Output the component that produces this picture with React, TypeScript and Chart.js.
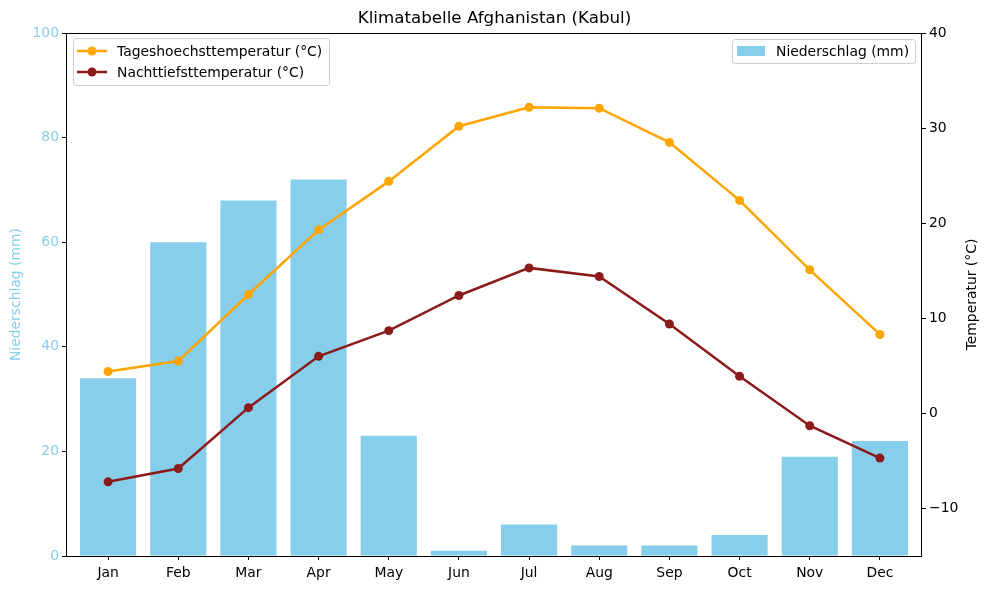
import React, { useEffect, useRef } from "react";
import { Chart, registerables } from "chart.js";

Chart.register(...registerables);

const months = ["Jan", "Feb", "Mar", "Apr", "May", "Jun", "Jul", "Aug", "Sep", "Oct", "Nov", "Dec"];
const precipitation = [34, 60, 68, 72, 23, 1, 6, 2, 2, 4, 19, 22];
const maxTemp = [4.4, 5.5, 12.5, 19.3, 24.4, 30.2, 32.2, 32.1, 28.5, 22.4, 15.1, 8.3];
const minTemp = [-7.2, -5.8, 0.6, 6.0, 8.7, 12.4, 15.3, 14.4, 9.4, 3.9, -1.3, -4.7];
const precipTicks = [0, 20, 40, 60, 80, 100];
const tempTicks = [-10, 0, 10, 20, 30, 40];

const SKY = "#87CEEB";
const ORANGE = "#FFA500";
const DARKRED = "#8B1A1A";
const FONT = "'DejaVu Sans', sans-serif";
const FS = 13.9;

const overlayPlugin = {
  id: "overlay",
  afterDraw(chart: any) {
    const ctx = chart.ctx;
    const a = chart.chartArea;
    ctx.save();
    // frame
    ctx.strokeStyle = "#000";
    ctx.lineWidth = 1;
    ctx.strokeRect(Math.round(a.left) + 0.5, Math.round(a.top) + 0.5, Math.round(a.right - a.left) - 1, Math.round(a.bottom - a.top));

    // axis titles
    ctx.font = `${FS}px ${FONT}`;
    ctx.textAlign = "center";
    ctx.textBaseline = "middle";
    const cy = (a.top + a.bottom) / 2;
    ctx.save();
    ctx.translate(16, cy);
    ctx.rotate(-Math.PI / 2);
    ctx.fillStyle = SKY;
    ctx.fillText("Niederschlag (mm)", 0, 0);
    ctx.restore();
    ctx.save();
    ctx.translate(972, cy);
    ctx.rotate(-Math.PI / 2);
    ctx.fillStyle = "#000";
    ctx.fillText("Temperatur (°C)", 0, 0);
    ctx.restore();

    const box = (x: number, y: number, w: number, h: number) => {
      ctx.beginPath();
      ctx.roundRect(x + 0.5, y + 0.5, w, h, 3);
      ctx.fillStyle = "rgba(255,255,255,0.8)";
      ctx.fill();
      ctx.strokeStyle = "#cccccc";
      ctx.lineWidth = 1;
      ctx.stroke();
    };

    // left legend
    box(73, 38, 256, 47);
    const rows = [
      { label: "Tageshoechsttemperatur (°C)", color: ORANGE, y: 51 },
      { label: "Nachttiefsttemperatur (°C)", color: DARKRED, y: 72 },
    ];
    ctx.textAlign = "left";
    for (const r of rows) {
      ctx.strokeStyle = r.color;
      ctx.lineWidth = 2.5;
      ctx.beginPath();
      ctx.moveTo(77, r.y);
      ctx.lineTo(107, r.y);
      ctx.stroke();
      ctx.fillStyle = r.color;
      ctx.beginPath();
      ctx.arc(92, r.y, 4.5, 0, Math.PI * 2);
      ctx.fill();
      ctx.fillStyle = "#000";
      ctx.fillText(r.label, 117, r.y + 1);
    }

    // right legend
    box(732, 39, 183, 24);
    ctx.fillStyle = SKY;
    ctx.fillRect(737, 46, 28, 10);
    ctx.fillStyle = "#000";
    ctx.fillText("Niederschlag (mm)", 776, 52);
    ctx.restore();
  },
};

export default function App() {
  const ref = useRef<HTMLCanvasElement | null>(null);
  useEffect(() => {
    document.body.style.margin = "0";
    const canvas = ref.current;
    if (!canvas) return;
    const lineDs = (label: string, values: number[], color: string) =>
      ({
        type: "line",
        label,
        data: values.map((v, i) => ({ x: i, y: v })),
        yAxisID: "y1",
        borderColor: color,
        backgroundColor: color,
        borderWidth: 2.5,
        pointRadius: 4.5,
        pointBorderWidth: 0,
        pointBackgroundColor: color,
        tension: 0,
        order: 1,
      } as any);
    const chart = new Chart(canvas, {
      type: "bar",
      data: {
        datasets: [
          lineDs("Tageshoechsttemperatur (°C)", maxTemp, ORANGE),
          lineDs("Nachttiefsttemperatur (°C)", minTemp, DARKRED),
          {
            type: "bar",
            label: "Niederschlag (mm)",
            data: precipitation.map((v, i) => ({ x: i, y: v })),
            yAxisID: "y",
            backgroundColor: SKY,
            borderWidth: 0,
            barPercentage: 0.8,
            categoryPercentage: 1.0,
            order: 2,
          } as any,
        ],
      },
      options: {
        animation: false,
        responsive: false,
        maintainAspectRatio: false,
        layout: { padding: 0 },
        plugins: {
          legend: { display: false },
          tooltip: { enabled: false },
          title: {
            display: true,
            text: "Klimatabelle Afghanistan (Kabul)",
            color: "#000",
            font: { size: 16.7, family: FONT, weight: "normal" },
            padding: { top: 9, bottom: 4 },
          },
        },
        scales: {
          x: {
            type: "linear",
            min: -0.6,
            max: 11.6,
            offset: false,
            afterBuildTicks: (s: any) => {
              s.ticks = months.map((_, i) => ({ value: i }));
            },
            afterFit: (s: any) => {
              s.height = 34;
            },
            ticks: {
              color: "#000",
              font: { size: FS, family: FONT },
              padding: 5,
              maxRotation: 0,
              autoSkip: false,
              callback: (v: any) => months[Math.round(Number(v))] ?? "",
            },
            grid: { display: true, offset: false, drawOnChartArea: false, drawTicks: true, tickLength: 4, color: "#000" },
            border: { display: false },
          },
          y: {
            type: "linear",
            position: "left",
            min: 0,
            max: 100,
            afterBuildTicks: (s: any) => {
              s.ticks = precipTicks.map((v) => ({ value: v }));
            },
            afterFit: (s: any) => {
              s.width = 66;
            },
            ticks: { color: SKY, font: { size: FS, family: FONT }, padding: 3 },
            grid: { display: true, drawOnChartArea: false, drawTicks: true, tickLength: 4, color: "#000" },
            border: { display: false },
          },
          y1: {
            type: "linear",
            position: "right",
            min: -15,
            max: 40,
            afterBuildTicks: (s: any) => {
              s.ticks = tempTicks.map((v) => ({ value: v }));
            },
            afterFit: (s: any) => {
              s.width = 67;
            },
            ticks: {
              color: "#000",
              font: { size: FS, family: FONT },
              padding: 3,
              callback: (v: any) => String(v).replace("-", "\u2212"),
            },
            grid: { display: true, drawOnChartArea: false, drawTicks: true, tickLength: 4, color: "#000" },
            border: { display: false },
          },
        },
      },
      plugins: [overlayPlugin],
    } as any);
    return () => chart.destroy();
  }, []);
  return (
    <div style={{ width: 989, height: 590 }}>
      <canvas ref={ref} width={989} height={590} style={{ display: "block", width: 989, height: 590 }} />
    </div>
  );
}
